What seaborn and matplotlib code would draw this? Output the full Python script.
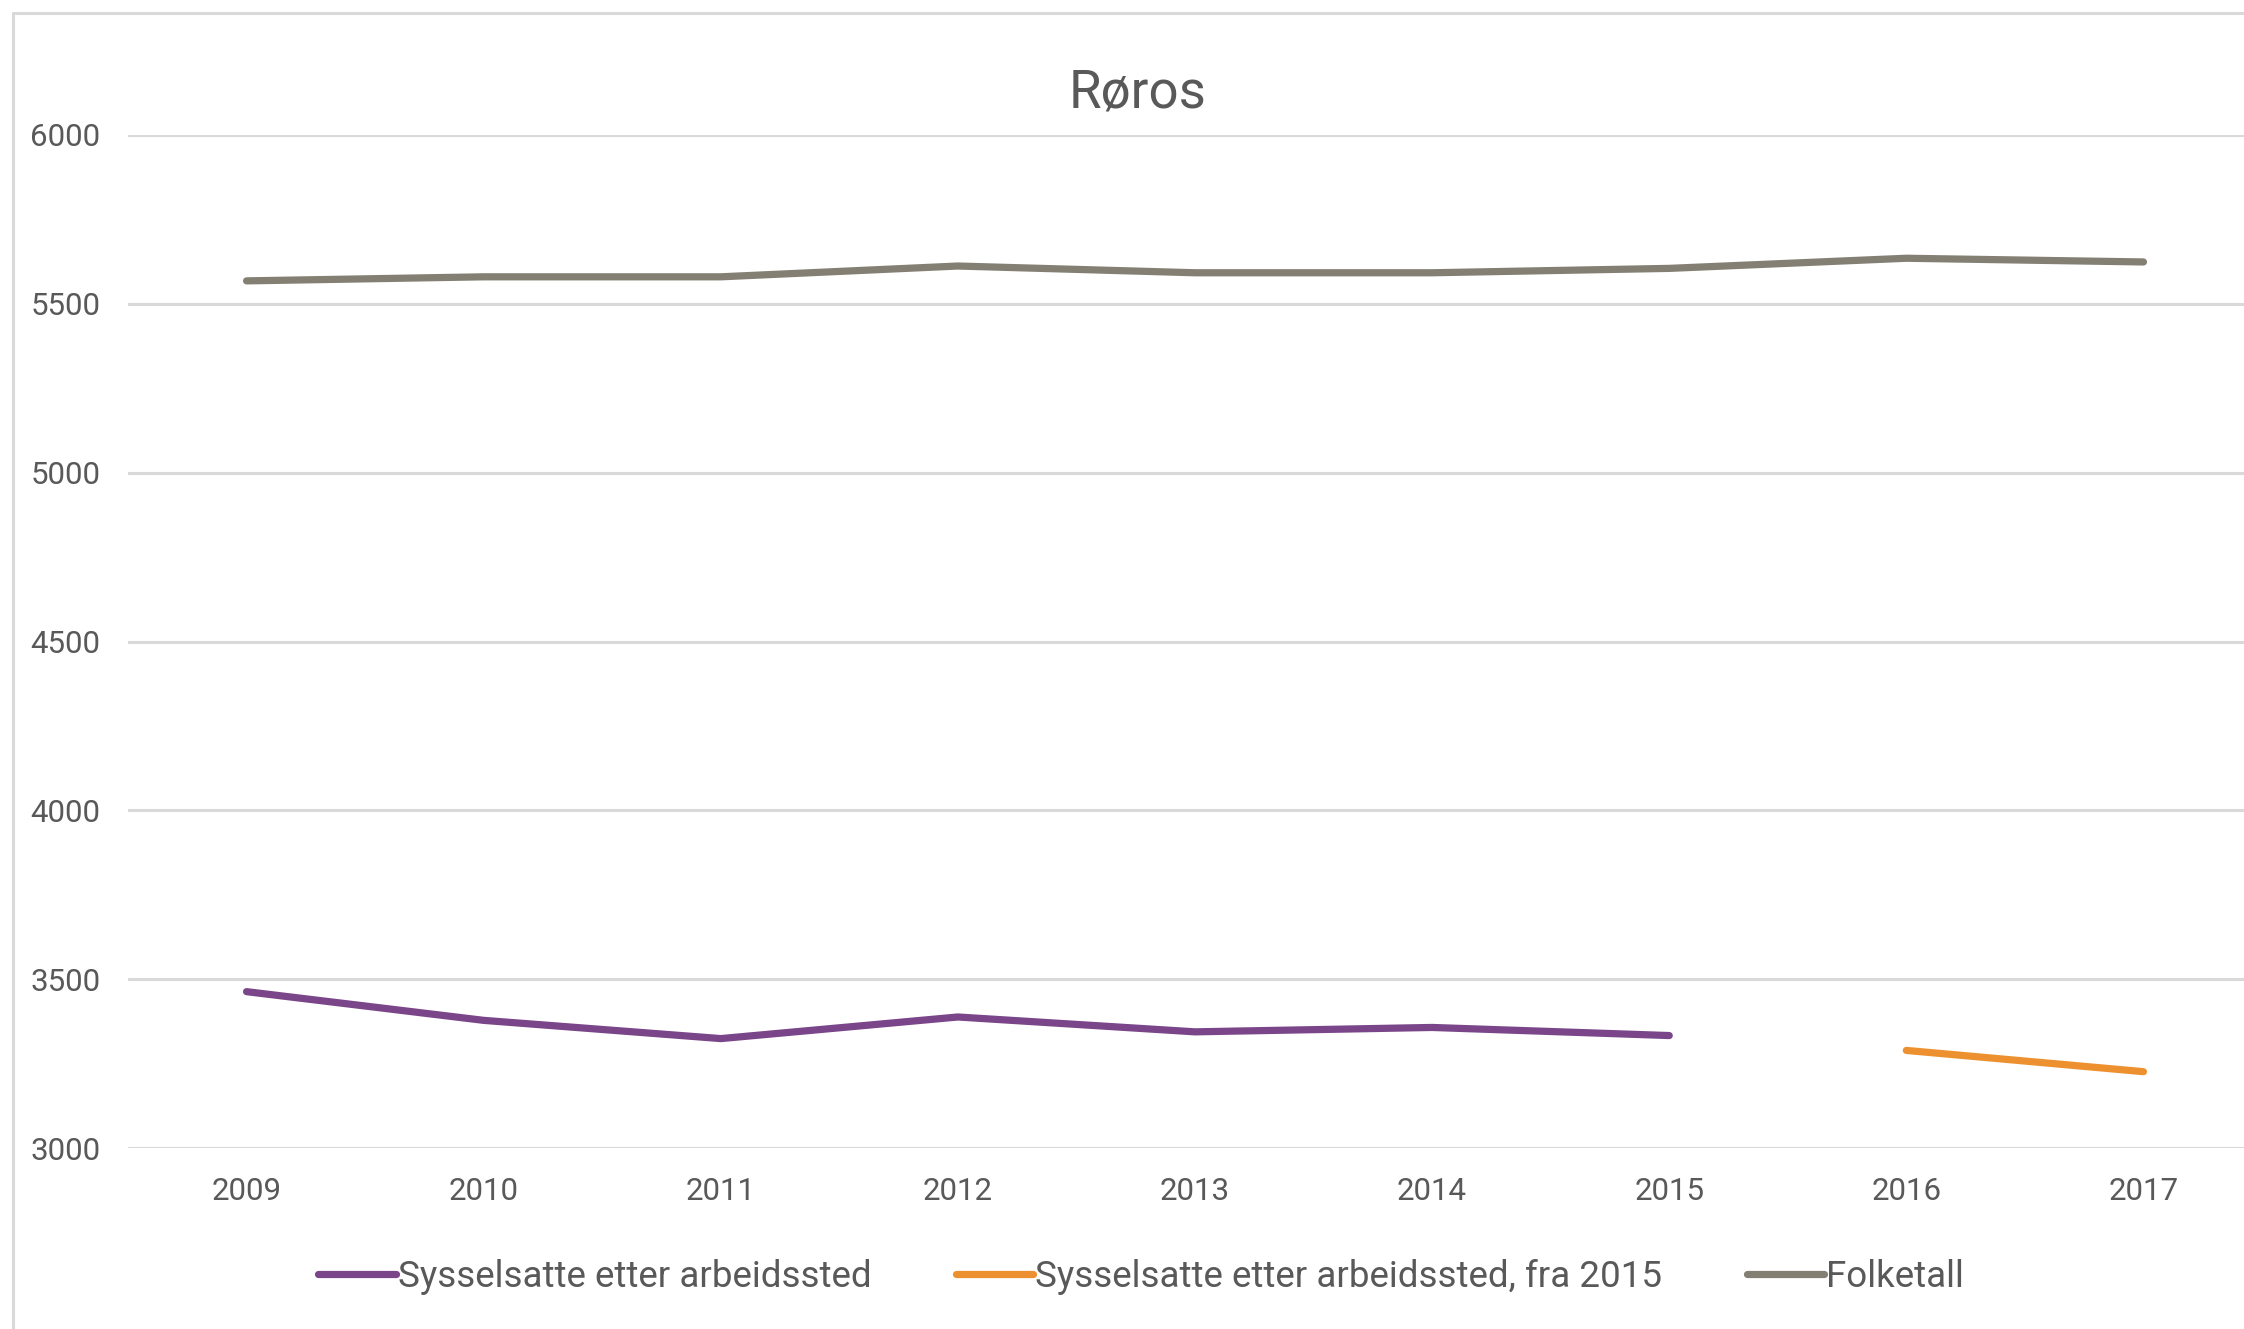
import matplotlib
matplotlib.use("Agg")
import matplotlib.pyplot as plt
from matplotlib.lines import Line2D
import numpy as np
import pandas as pd
import seaborn as sns

# values
years = [2009, 2010, 2011, 2012, 2013, 2014, 2015, 2016, 2017]
sysselsatte_years = [2009, 2010, 2011, 2012, 2013, 2014, 2015]
sysselsatte = [3463, 3378, 3324, 3388, 3344, 3357, 3333]
sysselsatte_2015_years = [2016, 2017]
sysselsatte_2015 = [3289, 3226]
folketall = [5568, 5580, 5580, 5612, 5592, 5592, 5605, 5635, 5624]

series_names = ["Sysselsatte etter arbeidssted",
                "Sysselsatte etter arbeidssted, fra 2015",
                "Folketall"]
colors = ["#7A4589", "#ED9130", "#837F72"]
y_ticks = [3000, 3500, 4000, 4500, 5000, 5500, 6000]

df = pd.concat([
    pd.DataFrame({"year": sysselsatte_years, "value": sysselsatte, "serie": series_names[0]}),
    pd.DataFrame({"year": sysselsatte_2015_years, "value": sysselsatte_2015, "serie": series_names[1]}),
    pd.DataFrame({"year": years, "value": folketall, "serie": series_names[2]}),
])

sns.set_style("white")
plt.rcParams["font.family"] = ["Roboto", "DejaVu Sans"]
text_color = "#595959"
grid_color = "#D9D9D9"

W, H = 2244, 1329
fig = plt.figure(figsize=(W / 100, H / 100), dpi=100)
ax = fig.add_axes([128 / W, 1 - 1148 / H, (2262 - 128) / W, (1148 - 135) / H])

sns.lineplot(data=df, x="year", y="value", hue="serie", hue_order=series_names,
             palette=colors, linewidth=5.2, solid_capstyle="round", ax=ax,
             legend=True, estimator=None, sort=False)

ax.set_xlim(years[0] - 0.5, years[-1] + 0.5)
ax.set_ylim(3000, 6000)
ax.set_xticks(years)
ax.set_xticklabels([str(y) for y in years])
ax.set_yticks(y_ticks)
ax.set_yticklabels([str(v) for v in y_ticks])
ax.tick_params(axis="x", length=0, pad=21, labelsize=22.5, colors=text_color)
ax.tick_params(axis="y", length=0, pad=20, labelsize=22.5, colors=text_color)
ax.set_xlabel("")
ax.set_ylabel("")
ax.grid(axis="y", color=grid_color, linewidth=2.2)
ax.set_axisbelow(True)
for s in ax.spines.values():
    s.set_visible(False)

handles, labels = ax.get_legend_handles_labels()
ax.get_legend().remove()
for h in handles:
    h.set_linewidth(5.2)
    h.set_solid_capstyle("round")
fig.legend(handles, labels, loc="center", bbox_to_anchor=(1141 / W, 1 - 1277 / H),
           ncol=3, frameon=False, fontsize=26.5, labelcolor=text_color,
           handlelength=2.1, handletextpad=0.05, columnspacing=2.3)

fig.text(1138 / W, 1 - 93 / H, "Røros", ha="center", va="center",
         fontsize=38, color=text_color)

# chart-area border (left and top edges visible in the crop)
fig.add_artist(Line2D([12.5 / W, 12.5 / W], [0, 1 - 13 / H], color=grid_color,
                      linewidth=2.2, transform=fig.transFigure))
fig.add_artist(Line2D([12.5 / W, 1], [1 - 13 / H, 1 - 13 / H], color=grid_color,
                      linewidth=2.2, transform=fig.transFigure))

fig.savefig("out.png", dpi=100, facecolor="white")
